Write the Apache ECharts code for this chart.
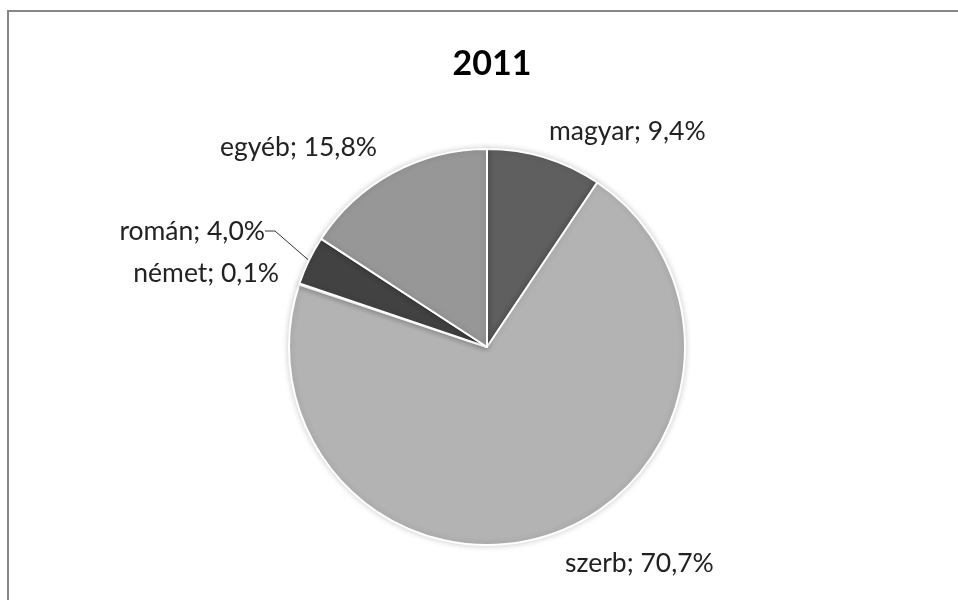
<!DOCTYPE html>
<html>
<head>
<meta charset="utf-8">
<script src="https://cdn.jsdelivr.net/npm/echarts@6/dist/echarts.min.js"></script>
<style>html,body{margin:0;padding:0;background:#fff;}#c{width:958px;height:600px;}</style>
</head>
<body>
<div id="c"></div>
<script>
var title = '2011';
var categories = ['magyar', 'szerb', 'német', 'román', 'egyéb'];
var values = [9.4, 70.7, 0.1, 4.0, 15.8];
var labels = ['9,4%', '70,7%', '0,1%', '4,0%', '15,8%'];

var colors = ['#5f5f5f', '#b3b3b3', '#d9d9d9', '#424242', '#979797'];
var labelPos = {
  'magyar': {x: 549, y: 131, align: 'left'},
  'szerb': {x: 565, y: 563, align: 'left'},
  'német': {x: 279, y: 273, align: 'right'},
  'román': {x: 265, y: 231, align: 'right'},
  'egyéb': {x: 377, y: 147, align: 'right'}
};

var data = categories.map(function (c, i) {
  return {
    name: c, value: values[i], pct: labels[i],
    itemStyle: {color: colors[i]},
    labelLine: {show: c === 'román'}
  };
});

var chart = echarts.init(document.getElementById('c'), null, {renderer: 'canvas'});
chart.setOption({
  backgroundColor: '#fff',
  animation: false,
  title: {
    text: title, left: 487, top: 42, textAlign: 'center',
    textStyle: {fontFamily: 'Lato', fontWeight: 'bold', fontSize: 34, color: '#000'}
  },
  graphic: [{
    type: 'rect', shape: {x: 8, y: 11, width: 1000, height: 700},
    style: {fill: 'none', stroke: '#878787', lineWidth: 2}, z: -10
  }],
  series: [{
    type: 'pie',
    center: [487, 347],
    radius: [0, 198],
    startAngle: 90,
    clockwise: true,
    data: data,
    itemStyle: {borderColor: '#fff', borderWidth: 2, shadowBlur: 6, shadowColor: 'rgba(0,0,0,0.18)'},
    label: {
      show: true, position: 'outside',
      fontFamily: 'Lato', fontSize: 26.5, color: '#222',
      formatter: function (p) { return p.name + '; ' + p.data.pct; }
    },
    labelLine: {lineStyle: {color: '#333', width: 1}, length: 10, length2: 10},
    labelLayout: function (p) {
      var lp = labelPos[p.text.split(';')[0]];
      return {x: lp.x, y: lp.y, align: lp.align, verticalAlign: 'middle'};
    }
  }]
});
</script>
</body>
</html>
